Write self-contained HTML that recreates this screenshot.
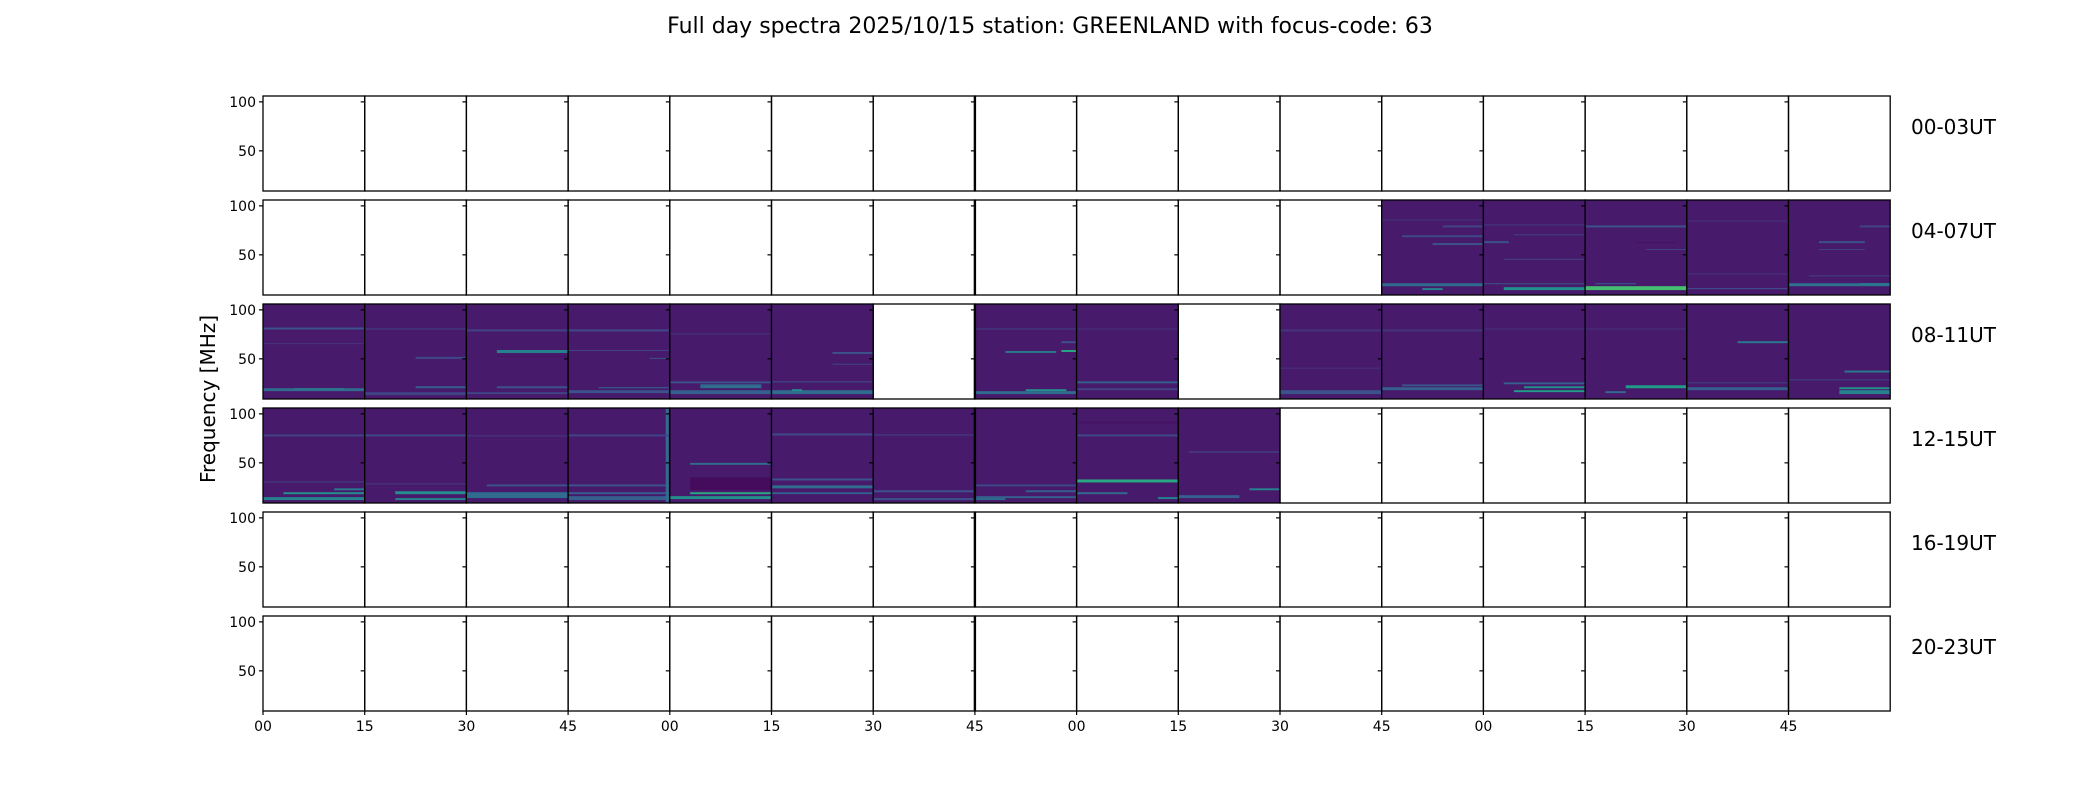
<!DOCTYPE html>
<html><head><meta charset="utf-8"><style>
html,body{margin:0;padding:0;background:#fff;}
svg text{font-family:"DejaVu Sans","Liberation Sans",sans-serif;fill:#000;}
</style></head><body>
<svg id="chart" width="2100" height="800" viewBox="0 0 2100 800" xmlns="http://www.w3.org/2000/svg">
<text x="1050" y="33" font-size="22" text-anchor="middle">Full day spectra 2025/10/15 station: GREENLAND with focus-code: 63</text>
<text x="0" y="0" font-size="20" text-anchor="middle" transform="translate(215,399) rotate(-90)">Frequency [MHz]</text>
<g id="panels"></g>
</svg>
<script>
// ---- data ----
const rowLabels = ["00-03UT","04-07UT","08-11UT","12-15UT","16-19UT","20-23UT"];
const xTickLabels = ["00","15","30","45","00","15","30","45","00","15","30","45","00","15","30","45"];
const yTicks = [50, 100];
const freqMin = 9, freqMax = 106;
const baseLevel = 0.07;
// filled panels per row (column indices)
const filledRow1 = [11,12,13,14,15];
const filledRow2 = [0,1,2,3,4,5,7,8,10,11,12,13,14,15];
const filledRow3 = [0,1,2,3,4,5,6,7,8,9];
// bands: key "row-col" -> [fLow, fHigh, value, startFrac, endFrac]
const bands = {
 "1-11":[[18,21,0.35,0,1],[14,16,0.45,0.4,0.6],[68,70,0.22,0.2,1],[60,62,0.25,0.5,1],[78,80,0.2,0.6,1],[85,86,0.15,0,1]],
 "1-12":[[14,17,0.5,0.2,1],[20,21,0.25,0,1],[62,64,0.25,0,0.25],[70,71,0.2,0.3,1],[45,46,0.2,0.2,1],[80,81,0.18,0,1]],
 "1-13":[[14,18,0.7,0,1],[20,21,0.3,0.1,0.5],[78,80,0.25,0,1],[55,56,0.2,0.6,1],[62,63,0.05,0.5,0.9]],
 "1-14":[[15,16,0.25,0,1],[30,31,0.15,0,1],[84,85,0.15,0,1]],
 "1-15":[[18,21,0.38,0,1],[20,21,0.45,0.7,1],[62,64,0.25,0.3,0.75],[28,29,0.2,0.2,1],[78,80,0.2,0.7,1],[55,56,0.18,0.3,0.75]],
 "2-0":[[17,20,0.35,0,1],[19,20,0.45,0.3,0.8],[80,82,0.25,0,1],[65,66,0.15,0,1]],
 "2-1":[[13,16,0.2,0,1],[20,22,0.3,0.5,1],[50,52,0.22,0.5,1],[80,81,0.2,0,1]],
 "2-2":[[14,16,0.2,0,1],[20,22,0.25,0.3,1],[56,59,0.45,0.3,1],[52,53,0.05,0.3,1],[78,80,0.2,0,1]],
 "2-3":[[15,18,0.25,0,1],[20,21,0.35,0.3,1],[78,80,0.22,0,1],[58,59,0.2,0,1],[50,51,0.25,0.8,1]],
 "2-4":[[14,18,0.3,0,1],[20,24,0.35,0.3,0.9],[25,27,0.25,0,1],[75,76,0.15,0,1]],
 "2-5":[[14,18,0.35,0,1],[17,19,0.5,0.2,0.3],[26,27,0.25,0,1],[55,57,0.25,0.6,1],[44,45,0.2,0.6,1]],
 "2-7":[[14,17,0.35,0,1],[17,19,0.5,0.5,0.9],[56,58,0.4,0.3,0.8],[57,59,0.6,0.85,1],[66,68,0.25,0.85,1],[80,81,0.2,0,1]],
 "2-8":[[18,20,0.2,0,1],[25,27,0.3,0,1],[80,81,0.15,0,1]],
 "2-10":[[14,18,0.25,0,1],[78,80,0.15,0,1],[40,41,0.15,0,1]],
 "2-11":[[18,21,0.3,0,1],[22,24,0.25,0.2,1],[78,80,0.15,0,1]],
 "2-12":[[16,18,0.55,0.3,1],[20,22,0.5,0.4,1],[24,26,0.3,0.2,1],[80,81,0.15,0,1]],
 "2-13":[[20,23,0.55,0.4,1],[15,17,0.35,0.2,0.4],[80,81,0.15,0,1]],
 "2-14":[[18,21,0.3,0,1],[66,68,0.4,0.5,1],[25,26,0.2,0,1]],
 "2-15":[[14,18,0.45,0.5,1],[19,21,0.5,0.5,1],[36,38,0.4,0.55,1],[28,29,0.2,0,1]],
 "3-0":[[12,15,0.45,0,1],[18,20,0.5,0.2,1],[22,24,0.4,0.7,1],[30,31,0.2,0,1],[77,79,0.2,0,1]],
 "3-1":[[18,21,0.5,0.3,1],[12,14,0.45,0.3,1],[28,29,0.18,0,1],[77,79,0.22,0,1]],
 "3-2":[[14,20,0.35,0,1],[26,28,0.25,0.2,1],[77,78,0.18,0,1]],
 "3-3":[[12,16,0.3,0,1],[18,20,0.3,0,1],[26,28,0.25,0,1],[10,105,0.35,0.96,0.99],[77,79,0.2,0,1]],
 "3-4":[[18,20,0.6,0.2,1],[13,16,0.5,0,1],[48,50,0.35,0.2,1],[22,35,0.03,0.2,1]],
 "3-5":[[24,27,0.35,0,1],[18,20,0.3,0,1],[32,34,0.25,0,1],[78,80,0.22,0,1]],
 "3-6":[[20,22,0.25,0,1],[78,79,0.2,0,1],[12,14,0.25,0,1]],
 "3-7":[[14,16,0.3,0,1],[20,22,0.3,0.5,1],[26,28,0.22,0,1],[12,14,0.35,0,0.3]],
 "3-8":[[30,33,0.6,0.0,1],[18,20,0.35,0,0.5],[13,15,0.45,0.8,1],[90,92,0.05,0,1],[77,79,0.22,0,1]],
 "3-9":[[22,24,0.45,0.7,1],[14,17,0.3,0,0.6],[60,62,0.15,0.1,1]]
};

// ---- drawing ----
const NS = "http://www.w3.org/2000/svg";
const g = document.getElementById("panels");
const X0 = 263, PW = 101.7, Y0 = 96, PH = 95, RP = 104;
const nCols = 16, nRows = 6;
const viridis = [[68,1,84],[72,40,120],[62,74,137],[49,104,142],[38,130,142],[31,158,137],[53,183,121],[109,205,89],[180,222,44],[253,231,37]];
function cmap(v){v=Math.max(0,Math.min(1,v));const p=v*(viridis.length-1);const i=Math.min(Math.floor(p),viridis.length-2);const t=p-i;
 const c=viridis[i].map((a,k)=>Math.round(a+(viridis[i+1][k]-a)*t));return `rgb(${c[0]},${c[1]},${c[2]})`;}
function xCol(c){return X0+c*PW;}
function yRow(r){return Y0+r*RP;}
function yFreq(r,f){return yRow(r)+(freqMax-f)/(freqMax-freqMin)*PH;}
function mk(tag,attrs){const e=document.createElementNS(NS,tag);for(const k in attrs)e.setAttribute(k,attrs[k]);g.appendChild(e);return e;}
const filled = {1:filledRow1,2:filledRow2,3:filledRow3};

for(let r=0;r<nRows;r++){
 for(let c=0;c<nCols;c++){
  const x=xCol(c), y=yRow(r);
  const isFilled = filled[r] && filled[r].indexOf(c)>=0;
  if(isFilled){
   const bg=mk("rect",{x:x,y:y,width:PW,height:PH,fill:cmap(baseLevel)});
   
   
   const lst=bands[r+"-"+c]||[];
   for(const b of lst){
    const yt=yFreq(r,b[1]), yb=yFreq(r,b[0]);
    const br=mk("rect",{x:x+b[3]*PW,y:yt,width:(b[4]-b[3])*PW,height:Math.max(1,yb-yt),fill:cmap(b[2])});
    
    
   }
  }
  const fr=mk("rect",{x:x,y:y,width:PW,height:PH,fill:"none",stroke:"#000","stroke-width":1.3});
  
  
  if(c===7){
   const tl=mk("line",{x1:x,x2:x,y1:y,y2:y+PH,stroke:"#000","stroke-width":2.4});
   
   
  }
  for(const t of yTicks){
   const ty=yFreq(r,t);
   const tk=mk("line",{x1:x-4,x2:x,y1:ty,y2:ty,stroke:"#000","stroke-width":1.2});
   
   
   if(c===0){
    const tl=mk("text",{x:x-7,y:ty+5,"font-size":14,"text-anchor":"end"});
    tl.textContent=String(t);
    
    
   }
  }
  if(r===nRows-1){
   const tk=mk("line",{x1:x,x2:x,y1:y+PH,y2:y+PH+4,stroke:"#000","stroke-width":1.2});
   
   
   const tl=mk("text",{x:x,y:y+PH+20,"font-size":14,"text-anchor":"middle"});
   tl.textContent=xTickLabels[c];
   
   
  }
 }
 const rl=mk("text",{x:1911,y:yRow(r)+38,"font-size":20});
 rl.textContent=rowLabels[r];
 
 
}
</script>
</body></html>
